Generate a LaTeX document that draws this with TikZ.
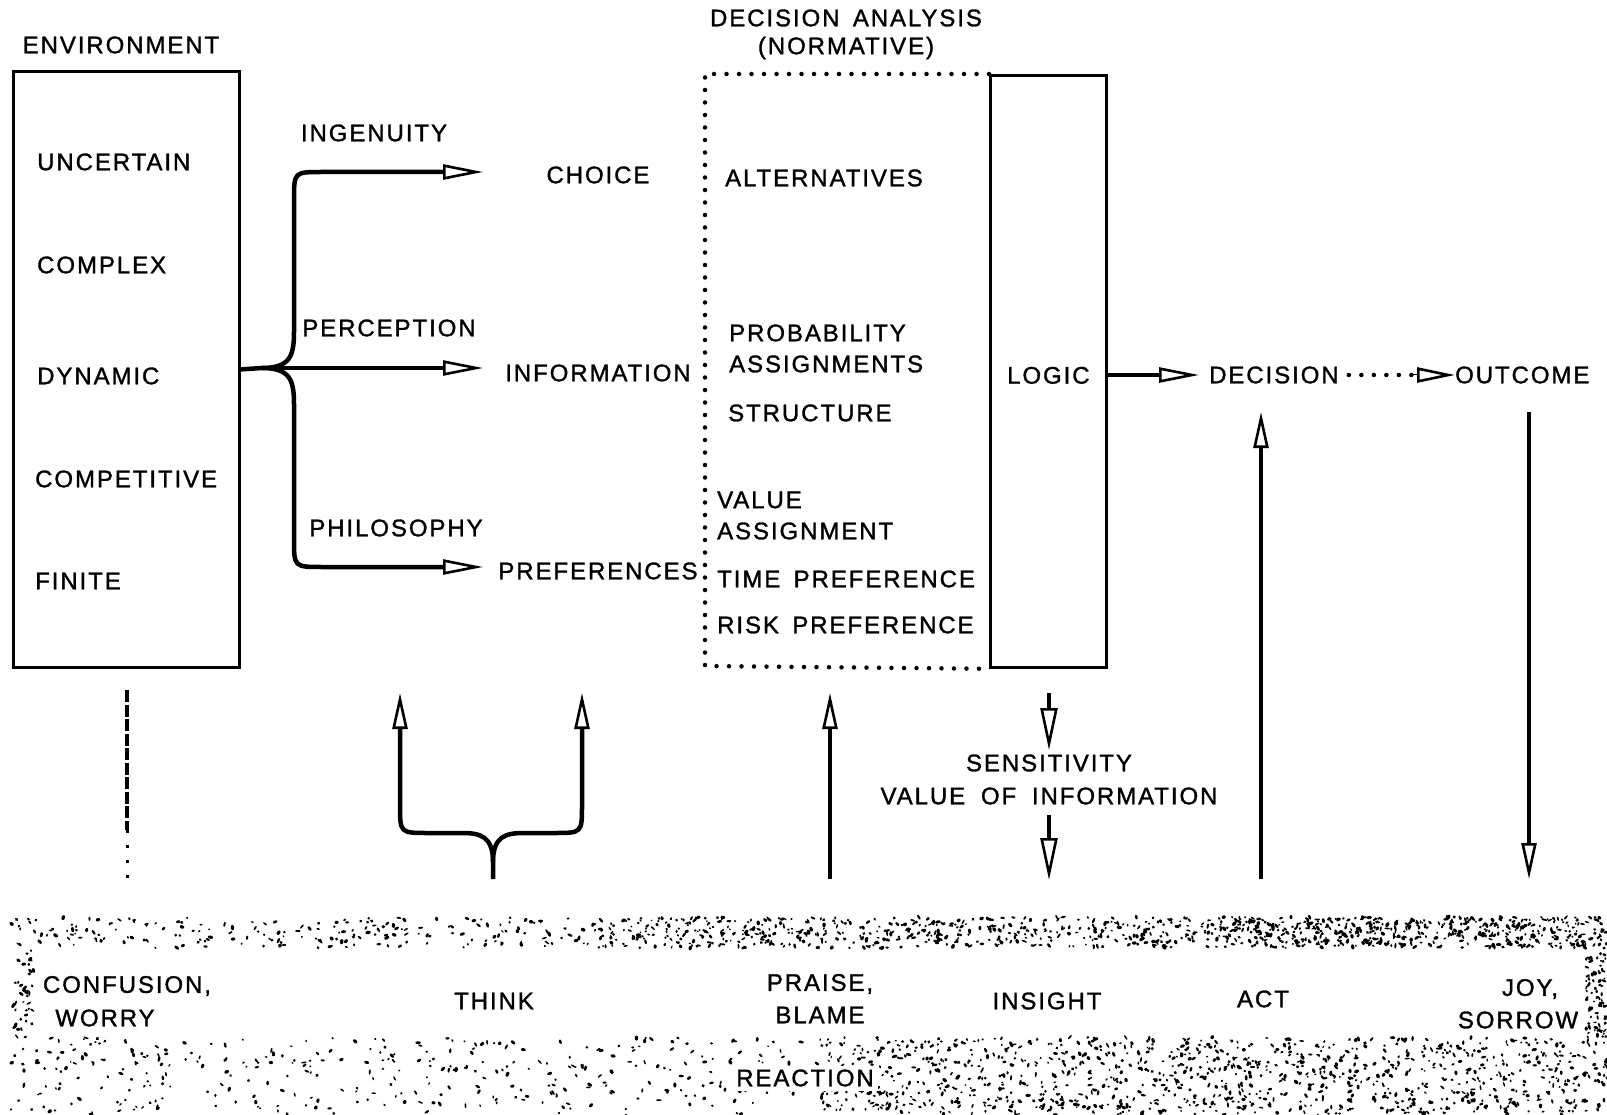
\documentclass[tikz,border=0pt]{standalone}
\usepackage{fontspec}
\setmainfont{Liberation Sans}[LetterSpace=8, FakeBold=1.3]
\usetikzlibrary{arrows.meta}

% random speckles inside a rectangle: x0, y0, width, height, count
\newcommand{\speckle}[5]{%
  \foreach \k in {1,...,#5}{%
    \pgfmathsetmacro{\sx}{#1+rnd*#3}%
    \pgfmathsetmacro{\sy}{#2+rnd*#4}%
    \pgfmathsetmacro{\rx}{1.0+1.8*rnd}%
    \pgfmathsetmacro{\ry}{0.8+1.0*rnd}%
    \pgfmathsetmacro{\ang}{rnd*180}%
    \fill[rotate around={\ang:(\sx,\sy)}] (\sx,\sy) ellipse[x radius=\rx pt, y radius=\ry pt];
  }}

\begin{document}
\begin{tikzpicture}[x=1pt,y=-1pt,
  lbl/.style={inner sep=0pt, font=\fontsize{24}{31}\selectfont},
  box/.style={draw, line width=2.8pt, inner sep=0pt},
  flow/.style={line width=4.5pt, -{Triangle[open, length=40pt, width=15pt, line width=2.6pt]}},
  vflow/.style={line width=4.5pt, -{Triangle[open, length=36pt, width=15pt, line width=2.6pt]}},
  sflow/.style={line width=3.5pt, -{Triangle[open, length=42pt, width=17pt, line width=2.6pt]}},
  dotline/.style={line width=4.5pt, line cap=round, dash pattern=on 0pt off 12.5pt},
  plain/.style={line width=4.5pt}]
\useasboundingbox[fill=white] (0,0) rectangle (1607,1115);

% ---------- environment ----------
\node[lbl] (envtitle) at (121,45) {ENVIRONMENT};
\node[box, minimum width=226pt, minimum height=596pt, anchor=north west] (env) at (12,70) {};
\node[lbl, anchor=west] (unc) at (37,162) {UNCERTAIN};
\node[lbl, anchor=west] (cpx) at (37,265) {COMPLEX};
\node[lbl, anchor=west] (dyn) at (37,376) {DYNAMIC};
\node[lbl, anchor=west] (cmp) at (35,479) {COMPETITIVE};
\node[lbl, anchor=west] (fin) at (35,581) {FINITE};

% ---------- branching paths ----------
\node[lbl] (ingen) at (374,133) {INGENUITY};
\node[lbl] (percep) at (389,328) {PERCEPTION};
\node[lbl] (philo) at (396,528) {PHILOSOPHY};
\node[lbl] (choice) at (598,175) {CHOICE};
\node[lbl] (info) at (598,373) {INFORMATION};
\node[lbl] (prefs) at (598,571) {PREFERENCES};
\coordinate (split) at (262,368);
\coordinate (tipA) at (483,172);
\coordinate (tipB) at (483,368);
\coordinate (tipC) at (483,567);

\draw[plain] (env.east) -- (split);
\draw[flow] (split) .. controls (290,368) and (294,356) .. (294,332) -- (294,200)
  .. controls (294,172) and (294,172) .. (322,172) -- (tipA);
\draw[flow] (split) -- (tipB);
\draw[flow] (split) .. controls (290,368) and (294,380) .. (294,404) -- (294,539)
  .. controls (294,567) and (294,567) .. (322,567) -- (tipC);

% ---------- decision analysis ----------
\node[lbl] (datitle) at (846,18) {DECISION\hspace{0.2em} ANALYSIS};
\node[lbl] (danorm) at (846,48) {(NORMATIVE)};
\node[box, minimum width=116pt, minimum height=592pt, anchor=north west] (logic) at (989,74) {};
\node[lbl] (logictxt) at ([yshift=-4pt]logic.center) {LOGIC};
\draw[dotline] (logic.north west) -- (705,74) -- (705,666) -- (logic.south west);

\node[lbl, anchor=west] (alt) at (725,178) {ALTERNATIVES};
\node[lbl, anchor=west] (prob) at (729,333) {PROBABILITY};
\node[lbl, anchor=west] (passign) at (729,364) {ASSIGNMENTS};
\node[lbl, anchor=west] (struct) at (728,413) {STRUCTURE};
\node[lbl, anchor=west] (val) at (717,500) {VALUE};
\node[lbl, anchor=west] (vassign) at (717,531) {ASSIGNMENT};
\node[lbl, anchor=west] (timep) at (717,579) {TIME\hspace{0.2em} PREFERENCE};
\node[lbl, anchor=west] (riskp) at (717,625) {RISK\hspace{0.2em} PREFERENCE};

% ---------- decision and outcome ----------
\node[lbl, anchor=west] (decision) at (1209,375) {DECISION};
\node[lbl, anchor=west] (outcome) at (1455,375) {OUTCOME};
\draw[flow] (logic.east |- decision.west) -- ([xshift=-10pt]decision.west);
\draw[dotline] ([xshift=10pt]decision.east) -- (1412,375);
\draw[line width=1pt, -{Triangle[open, length=38pt, width=15pt, line width=2.6pt]}] (1410,375) -- (outcome.west);

% ---------- feedback arrows ----------
\coordinate (cwTop) at (127,690);
\coordinate (cwMid) at (127,830);
\coordinate (cwBot) at (127,880);
\draw[line width=4.5pt, dash pattern=on 12pt off 2.5pt] (cwTop) -- (cwMid);
\draw[line width=3pt, dash pattern=on 3pt off 12pt] (cwMid) -- (cwBot);

\coordinate (thkBot) at (493,879);
\coordinate (thkL) at (400,693);
\coordinate (thkR) at (582,693);
\draw[vflow] (thkBot) -- (493,862) .. controls (493,836) and (480,833) .. (462,833)
  -- (428,833) .. controls (400,833) and (400,833) .. (400,805) -- (thkL);
\draw[vflow] (493,862) .. controls (493,836) and (506,833) .. (524,833)
  -- (554,833) .. controls (582,833) and (582,833) .. (582,805) -- (thkR);

\coordinate (prBot) at (830,879);
\coordinate (prTop) at (830,693);
\draw[vflow] (prBot) -- (prTop);

\node[lbl] (sens) at (1049,763) {SENSITIVITY};
\node[lbl] (voi) at (1049,796) {VALUE\hspace{0.3em} OF\hspace{0.3em} INFORMATION};
\coordinate (seTop) at (1049,693);
\coordinate (seA) at (1049,750);
\coordinate (seB) at (1049,815);
\coordinate (seBot) at (1049,880);
\draw[sflow] (seTop) -- (seA);
\draw[sflow] (seB) -- (seBot);

\coordinate (actBot) at (1261,879);
\draw[vflow] (actBot) -- (1261,412);
\coordinate (outBot) at (1529,879);
\draw[vflow] (1529,412) -- (outBot);

% ---------- reaction band ----------
\pgfmathsetseed{1977}
\speckle{10}{917}{1597}{31}{550}
\speckle{600}{917}{1007}{31}{550}
\speckle{1200}{917}{407}{31}{200}
\speckle{10}{1037}{1597}{78}{750}
\speckle{820}{1037}{787}{78}{800}
\speckle{10}{948}{24}{89}{40}
\speckle{1586}{948}{21}{89}{90}

\node[lbl, fill=white, inner sep=4pt] (reaction) at (805,1078) {REACTION};
\node[lbl] (conf) at (127,986) {CONFUSION,};
\node[lbl] (worry) at (105,1018) {WORRY};
\node[lbl] (think) at (494,1001) {THINK};
\node[lbl] (praise) at (820,984) {PRAISE,};
\node[lbl] (blame) at (820,1015) {BLAME};
\node[lbl] (insight) at (1047,1001) {INSIGHT};
\node[lbl] (act) at (1263,999) {ACT};
\node[lbl] (joy) at (1530,989) {JOY,};
\node[lbl] (sorrow) at (1518,1020) {SORROW};
\end{tikzpicture}
\end{document}
